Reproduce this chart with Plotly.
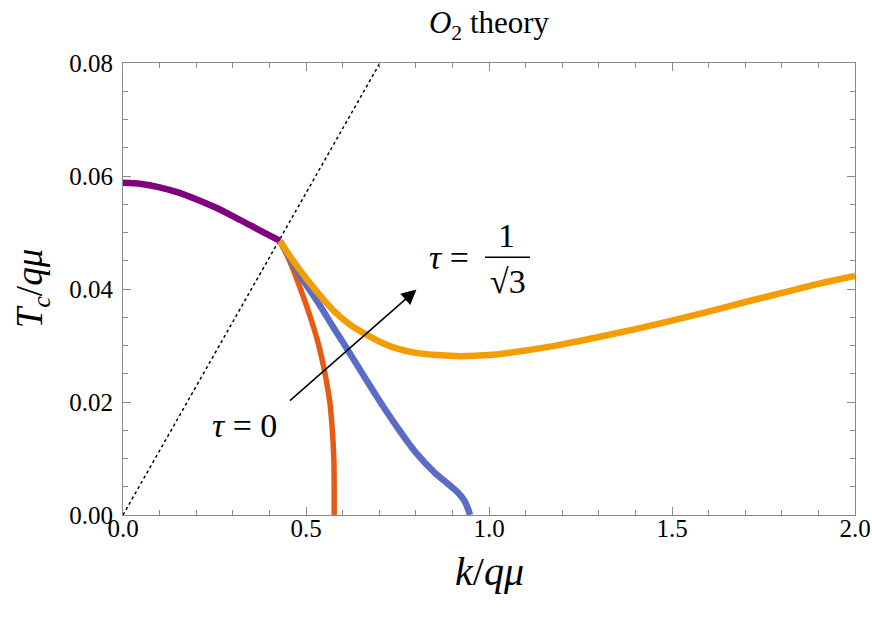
import plotly.graph_objects as go

# curves: k/q mu  vs  T_c/q mu
k_purple = [0.0, 0.05, 0.10, 0.15, 0.20, 0.25, 0.30, 0.35, 0.40, 0.429]
t_purple = [0.0588, 0.0586, 0.0580, 0.0571, 0.0559, 0.0545, 0.0529, 0.0512, 0.0495, 0.0485]

k_red = [0.429, 0.455, 0.485, 0.512, 0.535, 0.552, 0.565, 0.572, 0.576, 0.577, 0.577]
t_red = [0.0485, 0.0450, 0.0400, 0.0350, 0.0300, 0.0250, 0.0200, 0.0150, 0.0100, 0.0050, 0.0]

k_blue = [0.429, 0.48, 0.529, 0.575, 0.620, 0.665, 0.711, 0.755, 0.802, 0.85, 0.89, 0.915, 0.932, 0.942, 0.948]
t_blue = [0.0485, 0.0428, 0.0380, 0.0332, 0.0286, 0.0239, 0.0192, 0.0150, 0.0109, 0.0076, 0.0054, 0.0040, 0.0026, 0.0012, 0.0]

k_yellow = [0.429, 0.455, 0.484, 0.53, 0.575, 0.62, 0.666, 0.71, 0.757, 0.80, 0.86, 0.92, 1.0,
            1.1, 1.2, 1.3, 1.4, 1.5, 1.6, 1.7, 1.8, 1.9, 2.0]
t_yellow = [0.0485, 0.0459, 0.0433, 0.0395, 0.0362, 0.0337, 0.0319, 0.0304, 0.0293, 0.0287, 0.0283, 0.0281, 0.0283,
            0.0291, 0.0302, 0.0315, 0.0329, 0.0344, 0.0360, 0.0377, 0.0393, 0.0409, 0.0423]

k_dotted = [0.0, 0.702]
t_dotted = [0.0, 0.08]

serif = "Liberation Serif"
grey = "#8a8a8a"
nb = "\u00a0"

fig = go.Figure()
fig.add_trace(go.Scatter(x=k_dotted, y=t_dotted, mode="lines",
                         line=dict(color="black", width=1.5, dash="dot")))
fig.add_trace(go.Scatter(x=k_purple, y=t_purple, mode="lines", line_shape="spline",
                         line=dict(color="#800080", width=6.5)))
fig.add_trace(go.Scatter(x=k_red, y=t_red, mode="lines", line_shape="spline",
                         line=dict(color="#E55B12", width=5.5)))
fig.add_trace(go.Scatter(x=k_blue, y=t_blue, mode="lines", line_shape="spline",
                         line=dict(color="#5B6CC6", width=6.5)))
fig.add_trace(go.Scatter(x=k_yellow, y=t_yellow, mode="lines", line_shape="spline",
                         line=dict(color="#F29D00", width=6.5)))

# arrow from tau=0 towards tau=1/sqrt(3)
fig.add_annotation(x=0.802, y=0.0399, ax=0.452, ay=0.0200, xref="x", yref="y",
                   axref="x", ayref="y", text="", showarrow=True,
                   arrowhead=2, arrowsize=2, arrowwidth=1.5, arrowcolor="black")

lab = dict(family=serif, size=34, color="black")
fig.add_annotation(x=0.333, y=0.0159, text="<i>τ</i>" + nb + "=" + nb + "0", showarrow=False, font=lab)
fig.add_annotation(x=0.950, y=0.0455, text="<i>τ</i>" + nb + "=", showarrow=False,
                   xanchor="right", font=lab)
fig.add_annotation(x=1.048, y=0.0495, text="1", showarrow=False, font=lab)
fig.add_annotation(x=1.052, y=0.0414, text="√3", showarrow=False, font=lab)
fig.add_shape(type="line", x0=0.989, x1=1.112, y0=0.0456, y1=0.0456,
              line=dict(color="black", width=1.5))

# axis titles
fig.add_annotation(x=0.5, y=-0.126, xref="paper", yref="paper", showarrow=False,
                   xanchor="center", yanchor="middle",
                   text="<i>k</i>/<i>qμ</i>", font=dict(family=serif, size=40, color="black"))
fig.add_annotation(x=-0.124, y=0.5, xref="paper", yref="paper", showarrow=False, textangle=-90,
                   xanchor="center", yanchor="middle",
                   text="<i>T<sub>c</sub></i>/<i>qμ</i>", font=dict(family=serif, size=37, color="black"))

axis_common = dict(
    showgrid=False, zeroline=False, showline=True, linecolor=grey, linewidth=1.2,
    mirror="allticks", ticks="inside", ticklen=8, tickwidth=1.2, tickcolor=grey,
    tickfont=dict(family=serif, size=25, color="black"), automargin=False,
)

fig.update_xaxes(range=[0, 2.0], tick0=0, dtick=0.5, tickformat=".1f", ticklabelstandoff=-9,
                 minor=dict(dtick=0.1, ticks="inside", ticklen=5, tickcolor=grey),
                 **axis_common)
fig.update_yaxes(range=[0, 0.08], tick0=0, dtick=0.02, tickformat=".2f", ticklabelstandoff=4,
                 minor=dict(dtick=0.005, ticks="inside", ticklen=5, tickcolor=grey),
                 **axis_common)

fig.update_layout(
    width=872, height=626,
    margin=dict(l=123, r=17, t=63, b=111),
    paper_bgcolor="white", plot_bgcolor="white",
    showlegend=False,
    title=dict(text="<i>O</i><sub>2</sub> theory", x=0.5, xref="paper", xanchor="center",
               y=0.964, yanchor="middle", yref="container",
               font=dict(family=serif, size=31, color="black")),
)

# drop the default page margin so the figure fills the window exactly
fig.write_html("out.html", config={"displayModeBar": False},
               post_script="document.body.style.margin='0';document.body.style.overflow='hidden';")
